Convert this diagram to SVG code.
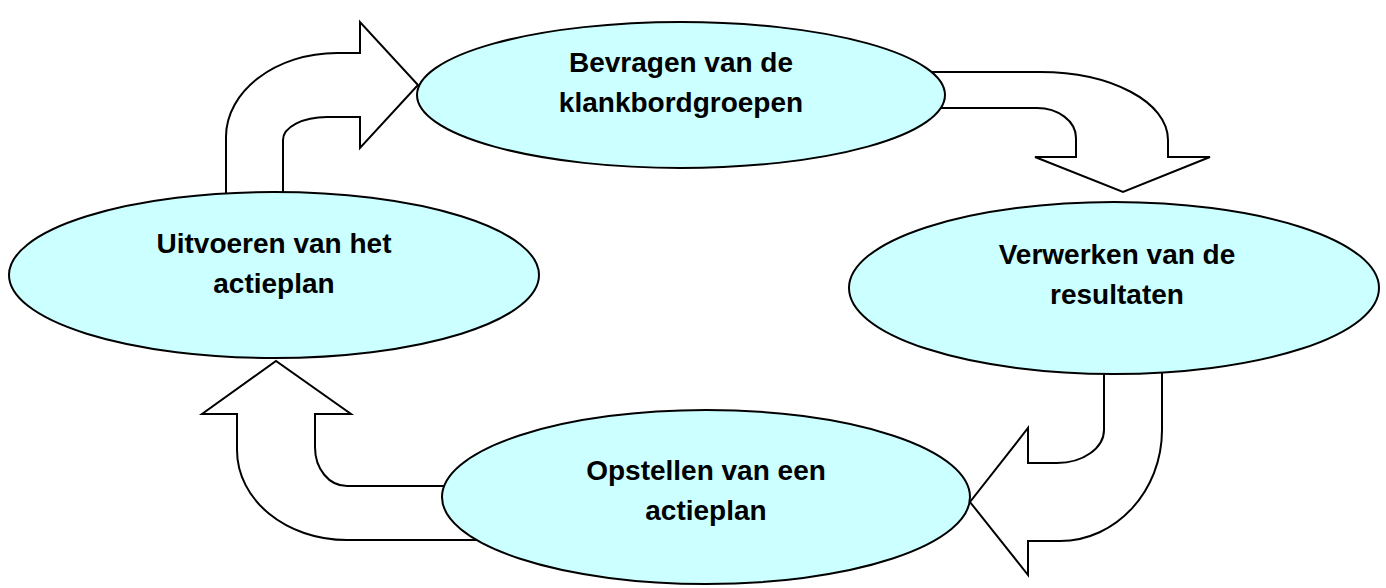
<svg xmlns="http://www.w3.org/2000/svg" width="1386" height="588" viewBox="0 0 1386 588">
<style>
.arrow{fill:#fff;stroke:#000;stroke-width:2;stroke-linejoin:miter}
.node{fill:#ccffff;stroke:#000;stroke-width:2}
.lbl{font-family:"Liberation Sans",Arial,sans-serif;font-weight:bold;font-size:28px;fill:#000;text-anchor:middle}
</style>
<rect width="1386" height="588" fill="#fff"/>
<g id="connectors">
<path class="arrow" d="M 226 200 L 226 137 C 226 91, 276 53, 337 53 L 360 53 L 360 22 L 418 85 L 360 148 L 360 117 L 327 117 C 303 117, 283 127, 283 140 L 283 200 Z"/>
<path class="arrow" d="M 920 72 L 1040 72 C 1111 72, 1168 102, 1168 140 L 1168 157 L 1210 157 L 1123 192 L 1035 157 L 1076 157 L 1076 138 C 1076 121, 1058 108, 1037 108 L 920 108 Z"/>
<path class="arrow" d="M 1162 360 L 1162 430 C 1162 491, 1116 541, 1060 541 L 1028 541 L 1028 575 L 970 502 L 1028 428 L 1028 463 L 1057 463 C 1083 463, 1104 448, 1104 430 L 1104 360 Z"/>
<path class="arrow" d="M 490 540 L 347 540 C 286 540, 237 500, 237 450 L 237 414 L 202 414 L 276 361 L 351 414 L 315 414 L 315 447 C 315 469, 329 486, 347 486 L 490 486 Z"/>
</g>
<g id="node-bevragen">
<ellipse class="node" cx="681" cy="95" rx="264" ry="73"/>
<text class="lbl" x="681" y="72">Bevragen van de</text>
<text class="lbl" x="681" y="112">klankbordgroepen</text>
</g>
<g id="node-uitvoeren">
<ellipse class="node" cx="274" cy="275" rx="265" ry="83"/>
<text class="lbl" x="274" y="253">Uitvoeren van het</text>
<text class="lbl" x="274" y="293">actieplan</text>
</g>
<g id="node-verwerken">
<ellipse class="node" cx="1114" cy="288" rx="265" ry="86"/>
<text class="lbl" x="1117" y="264">Verwerken van de</text>
<text class="lbl" x="1117" y="304">resultaten</text>
</g>
<g id="node-opstellen">
<ellipse class="node" cx="706" cy="497" rx="264" ry="87"/>
<text class="lbl" x="706" y="480">Opstellen van een</text>
<text class="lbl" x="706" y="520">actieplan</text>
</g>
</svg>
